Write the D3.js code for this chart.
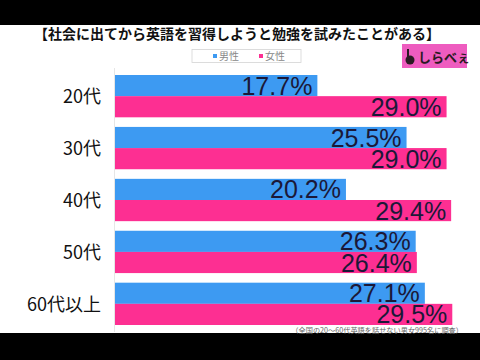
<!DOCTYPE html>
<html><head><meta charset="utf-8">
<script src="https://cdn.jsdelivr.net/npm/d3@7"></script>
<style>html,body{margin:0;padding:0;background:#000;}svg{display:block;}</style>
</head><body>
<script>
const categories = ["20代","30代","40代","50代","60代以上"];
const seriesNames = ["男性","女性"];
const menValues = [17.7, 25.5, 20.2, 26.3, 27.1];
const womenValues = [29.0, 29.0, 29.4, 26.4, 29.5];
const seriesColors = ["#3d9af2", "#fd2f92"];
const titleText = "【社会に出てから英語を習得しようと勉強を試みたことがある】";
const noteText = "（全国の20～60代英語を話せない男女995名に調査）";

const W = 480, H = 360;
const svg = d3.select("body").append("svg").attr("width", W).attr("height", H);
svg.append("rect").attr("width", W).attr("height", H).attr("fill", "#000");
svg.append("rect").attr("x", 0).attr("y", 25).attr("width", W).attr("height", 308).attr("fill", "#fff");

const jp = "'Noto Sans CJK JP', sans-serif";

svg.append("text").attr("x", 237).attr("y", 39).attr("text-anchor", "middle")
  .attr("font-family", jp).attr("font-weight", "bold").attr("font-size", 14).attr("fill", "#111")
  .text(titleText);

// legend
const lg = svg.append("g");
lg.append("rect").attr("x", 192).attr("y", 49.5).attr("width", 109).attr("height", 13)
  .attr("fill", "#fff").attr("stroke", "#d4d4d4").attr("stroke-width", 0.8);
const legX = [213, 259];
seriesNames.forEach((s, i) => {
  lg.append("rect").attr("x", legX[i]).attr("y", 54).attr("width", 4).attr("height", 4).attr("fill", seriesColors[i]);
  lg.append("text").attr("x", legX[i] + 6).attr("y", 60).attr("font-family", jp).attr("font-size", 10)
    .attr("fill", "#888").text(s);
});

// logo
const logo = svg.append("g");
logo.append("rect").attr("x", 402).attr("y", 44).attr("width", 65).attr("height", 24).attr("fill", "#ee5cbf");
logo.append("circle").attr("cx", 410).attr("cy", 60).attr("r", 4.5).attr("fill", "#2a1a22");
logo.append("rect").attr("x", 407).attr("y", 49).attr("width", 2).attr("height", 8).attr("fill", "#2a1a22");
logo.append("text").attr("x", 418).attr("y", 62).attr("font-family", jp).attr("font-weight", "bold")
  .attr("font-size", 13).attr("fill", "#2a1a22").text("しらべぇ");

const x = d3.scaleLinear().domain([0, 30]).range([115, 458]);
const y = d3.scaleBand().domain(categories).range([75, 325]).paddingInner(0.185).paddingOuter(0);
const ys = d3.scaleBand().domain(seriesNames).range([0, y.bandwidth()]);

// axis line
svg.append("line").attr("x1", 114.5).attr("x2", 114.5).attr("y1", 68).attr("y2", 332)
  .attr("stroke", "#e6e6e6").attr("stroke-width", 1);

const yAxis = svg.append("g").attr("transform", "translate(101,0)")
  .call(d3.axisLeft(y).tickSize(0).tickPadding(0));
yAxis.select(".domain").remove();
yAxis.selectAll("text").attr("font-family", jp).attr("font-size", 18).attr("fill", "#111").attr("dy", "0.4em");

const data = [];
categories.forEach((c, i) => {
  data.push({cat: c, s: seriesNames[0], v: menValues[i], col: seriesColors[0]});
  data.push({cat: c, s: seriesNames[1], v: womenValues[i], col: seriesColors[1]});
});

svg.append("g").selectAll("rect").data(data).join("rect")
  .attr("x", x(0)).attr("y", d => y(d.cat) + ys(d.s))
  .attr("width", d => x(d.v) - x(0)).attr("height", ys.bandwidth())
  .attr("fill", d => d.col);

svg.append("g").selectAll("text").data(data).join("text")
  .attr("x", d => x(d.v) - 5).attr("y", d => y(d.cat) + ys(d.s) + ys.bandwidth() / 2 + 9)
  .attr("text-anchor", "end").attr("font-family", "'Liberation Sans', Arial, sans-serif")
  .attr("font-size", 25).attr("fill", "#1b1838")
  .text(d => d.v.toFixed(1) + "%");

svg.append("text").attr("x", 463).attr("y", 333).attr("text-anchor", "end")
  .attr("font-family", jp).attr("font-size", 7.2).attr("fill", "#666").text(noteText);
</script>
</body></html>
